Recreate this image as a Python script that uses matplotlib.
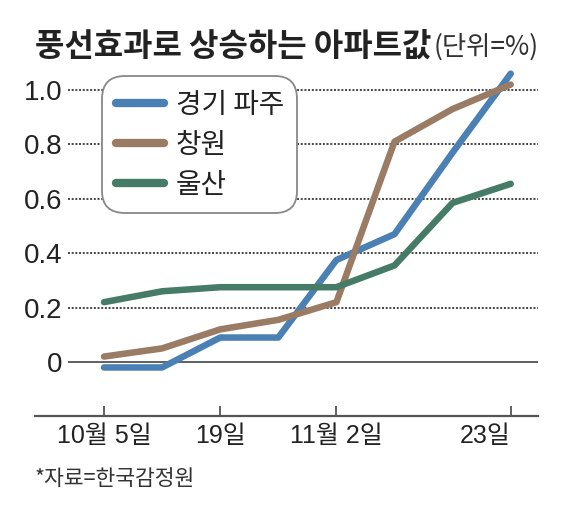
import numpy as np
import matplotlib
matplotlib.use("Agg")
import matplotlib.pyplot as plt

# weekly change of apartment prices (%), 10/5 ~ 11/23
weeks = np.arange(8)
paju = [-0.02, -0.02, 0.09, 0.09, 0.375, 0.47, 0.77, 1.06]
changwon = [0.02, 0.05, 0.12, 0.155, 0.22, 0.81, 0.93, 1.02]
ulsan = [0.22, 0.26, 0.275, 0.275, 0.275, 0.355, 0.585, 0.655]
series_names = ['경기 파주', '창원', '울산']
xtick_pos = [0, 2, 4, 7]
xtick_labels = ['10월 5일', '19일', '11월 2일', '23일']
ytick_vals = [0, 0.2, 0.4, 0.6, 0.8, 1.0]
ytick_labels = ['0', '0.2', '0.4', '0.6', '0.8', '1.0']

kr = 'Noto Sans CJK KR'
plt.rcParams['font.family'] = ['Liberation Sans', kr, 'DejaVu Sans']

fig = plt.figure(figsize=(5.83, 5.12), dpi=100)
ax = fig.add_axes([68 / 583, 96 / 512, 470 / 583, 346 / 512])
ax.set_xlim(-0.62, 7.47)
ax.set_ylim(-0.1985, 1.0735)

colors = ['#4a80b4', '#9a7b64', '#467b68']
for vals, name, c in zip([paju, changwon, ulsan], series_names, colors):
    ax.plot(weeks, vals, color=c, lw=4.7, label=name, solid_capstyle='round',
            solid_joinstyle='round', clip_on=False, zorder=3)

for v in ytick_vals[1:]:
    ax.axhline(v, color='#444444', lw=1.4, ls=(0, (1.0, 0.9)), zorder=1)
ax.axhline(0, color='#444444', lw=1.2, zorder=1)
ax.axhline(ax.get_ylim()[0], xmin=-33 / 470, xmax=1, color='#555555', lw=1.6,
           clip_on=False)

for s in ax.spines.values():
    s.set_visible(False)

ax.set_yticks(ytick_vals)
ax.set_yticklabels(ytick_labels, fontsize=20, color='#222222')
ax.tick_params(axis='y', length=0, pad=4)
ax.set_xticks(xtick_pos)
ax.set_xticklabels(xtick_labels, fontsize=18, color='#222222')
ax.tick_params(axis='x', direction='in', length=7, width=1.3, color='#555555', pad=6)
ax.get_xticklabels()[-1].set_ha('right')

leg = ax.legend(loc='upper left', bbox_to_anchor=(40 / 470, 1 - 12 / 346),
                prop={'family': [kr], 'size': 20}, handlelength=1.75,
                handletextpad=0.4, labelspacing=0.36, borderpad=0.28,
                fancybox=True, framealpha=1, edgecolor='#888888', borderaxespad=0)
leg.get_frame().set_linewidth(1.3)
leg.get_frame().set_boxstyle('round', pad=0.2, rounding_size=0.8)
for line in leg.get_lines():
    line.set_linewidth(6)
for t in leg.get_texts():
    t.set_color('#222222')
leg.set_zorder(5)

title = fig.text(35 / 583, 1 - 47 / 512, '풍선효과로 상승하는 아파트값', fontsize=23,
                 fontweight='bold', family=[kr], va='center', ha='left', color='#222222')
fig.canvas.draw()
bb = title.get_window_extent()
fig.text((bb.x1 + 2) / 583, 1 - 47 / 512, '(단위=%)', fontsize=19, family=[kr],
         va='center', ha='left', color='#333333')
fig.text(35 / 583, 1 - 479 / 512, '*자료=한국감정원', fontsize=15.5, family=[kr],
         va='center', ha='left', color='#333333')

fig.savefig('out.png', dpi=100)
